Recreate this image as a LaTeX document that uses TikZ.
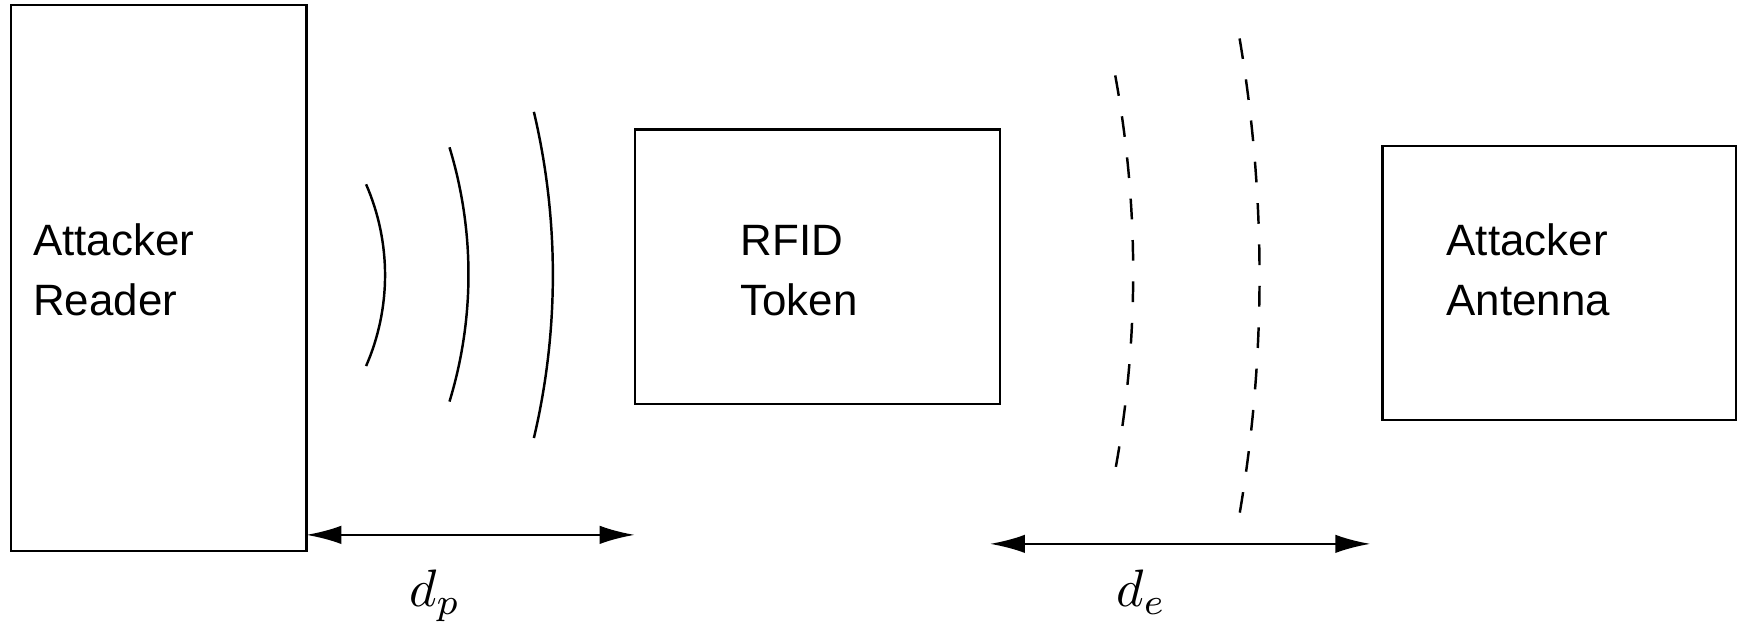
\documentclass[tikz,border=0pt]{standalone}
\usepackage{fontspec}
\setmainfont{Liberation Sans}
\usetikzlibrary{arrows.meta}
\tikzset{>={Latex[length=20pt,width=10.5pt]}}
\tikzset{
  box/.style={draw,rectangle,line width=1.4pt,inner sep=0pt,outer sep=0pt},
  lbl/.style={align=left,anchor=base west,inner sep=0pt,font=\fontsize{25}{34}\selectfont},
  dist/.style={anchor=base west,inner sep=0pt,scale=3},
  wave/.style={line width=1.4pt},
  echo/.style={line width=1.4pt,dash pattern=on 11.8pt off 11.8pt},
}

\begin{document}
\begin{tikzpicture}
    \useasboundingbox (0,0) rectangle (34.84,12.53);

    \node[box,minimum width=5.91cm,minimum height=10.93cm] (reader) at (3.18,6.96) {};
    \node[box,minimum width=7.31cm,minimum height=5.49cm] (token) at (16.37,7.19) {};
    \node[box,minimum width=7.07cm,minimum height=5.49cm] (antenna) at (31.22,6.86) {};

    % base anchor sits on the second line
    \node[lbl] (readerlbl) at (0.66,6.22) {Attacker\\Reader};
    \node[lbl] (tokenlbl) at (14.82,6.22) {RFID\\Token};
    \node[lbl] (antennalbl) at (28.96,6.22) {Attacker\\Antenna};

    % field of the reader
    \draw[wave] (7.33,8.84) arc[start angle=23.59,end angle=-23.59,radius=4.548];
    \draw[wave] (9.00,9.58) arc[start angle=16.99,end angle=-16.99,radius=8.712];
    \draw[wave] (10.69,10.29) arc[start angle=13.28,end angle=-13.28,radius=14.216];

    % reply of the token
    \draw[echo] (22.33,11.02) arc[start angle=10.40,end angle=-10.40,radius=21.905];
    \draw[echo] (24.82,11.76) arc[start angle=9.61,end angle=-9.61,radius=28.52];

    \coordinate (dpA) at (6.13,1.82);
    \coordinate (dpB) at (12.71,1.82);
    \coordinate (deA) at (19.82,1.64);
    \coordinate (deB) at (27.44,1.64);

    \draw[<->,line width=1.4pt] (dpA)--(dpB);
    \draw[<->,line width=1.4pt] (deA)--(deB);
    \node[dist] (dp) at (8.17,0.38) {$d_p$};
    \node[dist] (de) at (22.33,0.38) {$d_e$};
\end{tikzpicture}
\end{document}
